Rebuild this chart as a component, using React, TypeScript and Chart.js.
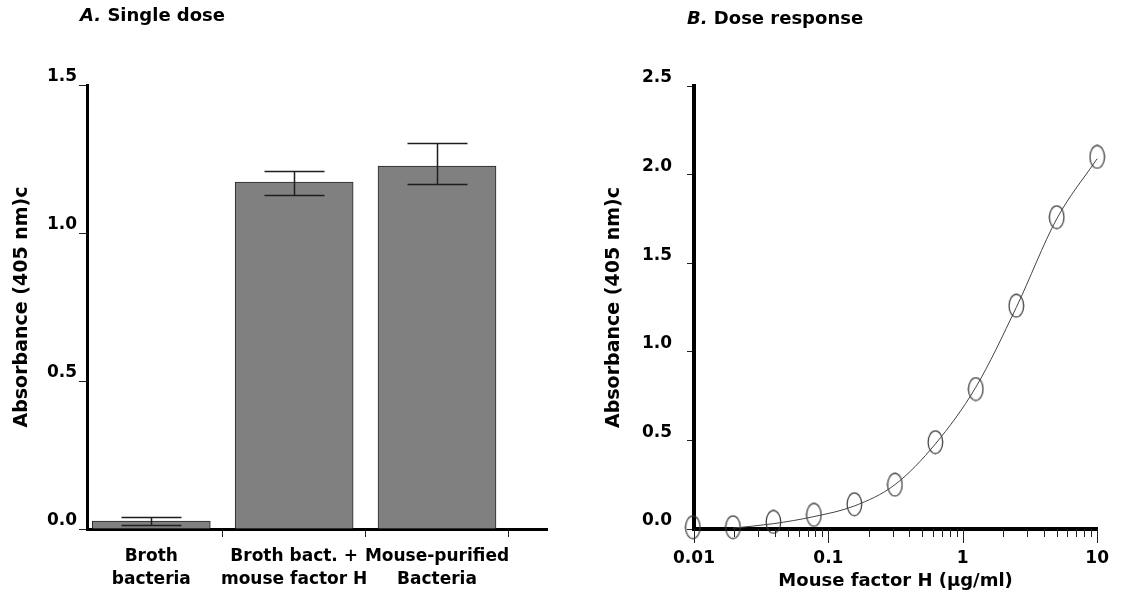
import React, { useEffect, useRef } from 'react';
import { Chart, registerables } from 'chart.js';
Chart.register(...registerables);

// ---------- Panel A data ----------
const categories: string[][] = [
  ['Broth', 'bacteria'],
  ['Broth bact. +', 'mouse factor H'],
  ['Mouse-purified', 'Bacteria'],
];
const barValues = [0.027, 1.172, 1.226];
const errHigh = [0.040, 1.209, 1.304];
const errLow = [0.014, 1.128, 1.166];
const leftYTicks = [0, 0.5, 1.0, 1.5];
const categoryPositions = [0, 1, 2];
const categoryBoundaries = [0.5, 1.5, 2.5];

// ---------- Panel B data ----------
const doses = [0.0098, 0.0195, 0.039, 0.078, 0.156, 0.3125, 0.625, 1.25, 2.5, 5, 10];
const absorbance = [0.01, 0.01, 0.04, 0.08, 0.14, 0.25, 0.49, 0.79, 1.26, 1.76, 2.10];
const fitDoses = [0.0195, 0.039, 0.078, 0.156, 0.3125, 0.625, 1.25, 2.5, 5, 10];
const fitValues = [0.005, 0.03, 0.07, 0.13, 0.25, 0.48, 0.80, 1.25, 1.75, 2.09];
const rightYTicks = [0, 0.5, 1.0, 1.5, 2.0, 2.5];
const majorTicks = [0.01, 0.1, 1, 10];
const majorTickLabels = ['0.01', '0.1', '1', '10'];
const minorMultipliers = [2, 3, 4, 5, 6, 7, 8, 9];

const FONT = '"DejaVu Sans", sans-serif';
const boldFont = (size: number, lineHeight = 1.2) => ({ family: FONT, size, weight: 'bold' as const, lineHeight });

const errorBarPlugin = {
  id: 'errorBars',
  afterDatasetsDraw(chart: any) {
    const { ctx, scales } = chart;
    const xs = scales.x;
    const ys = scales.y;
    ctx.save();
    ctx.strokeStyle = '#1e1e1e';
    ctx.lineWidth = 1.5;
    const half = 30;
    categoryPositions.forEach((c, i) => {
      const x = Math.round(xs.getPixelForValue(c)) + 0.5;
      const yh = Math.round(ys.getPixelForValue(errHigh[i])) + 0.5;
      const yl = Math.round(ys.getPixelForValue(errLow[i])) + 0.5;
      ctx.beginPath();
      ctx.moveTo(x, yh);
      ctx.lineTo(x, yl);
      ctx.moveTo(x - half, yh);
      ctx.lineTo(x + half, yh);
      ctx.moveTo(x - half, yl);
      ctx.lineTo(x + half, yl);
      ctx.stroke();
    });
    ctx.restore();
  },
};

const logTickPlugin = {
  id: 'logTickMarks',
  afterDraw(chart: any) {
    const { ctx } = chart;
    const s = chart.scales.x;
    ctx.save();
    ctx.strokeStyle = '#222';
    ctx.lineWidth = 1;
    s.ticks.forEach((t: any) => {
      const px = Math.round(s.getPixelForValue(t.value)) + 0.5;
      const len = t.major ? 14 : 8;
      ctx.beginPath();
      ctx.moveTo(px, s.top);
      ctx.lineTo(px, s.top + len);
      ctx.stroke();
    });
    ctx.restore();
  },
};

function makeEllipse(): HTMLCanvasElement {
  const c = document.createElement('canvas');
  c.width = 17;
  c.height = 25;
  const g = c.getContext('2d')!;
  g.strokeStyle = '#333';
  g.lineWidth = 1.2;
  g.beginPath();
  g.ellipse(8.5, 12.5, 7.3, 11.3, 0, 0, Math.PI * 2);
  g.stroke();
  return c;
}

export default function App() {
  const leftRef = useRef<HTMLCanvasElement>(null);
  const rightRef = useRef<HTMLCanvasElement>(null);

  useEffect(() => {
    const left = new Chart(leftRef.current!, {
      type: 'bar',
      data: {
        datasets: [
          {
            data: barValues.map((v, i) => ({ x: categoryPositions[i], y: v })),
            backgroundColor: '#808080',
            borderColor: '#262626',
            borderWidth: 1,
            barThickness: 118,
          } as any,
        ],
      },
      options: {
        animation: false,
        responsive: false,
        layout: { padding: { top: 85, right: 13, left: 0, bottom: 0 } },
        plugins: { legend: { display: false }, tooltip: { enabled: false } },
        scales: {
          x: {
            type: 'linear',
            offset: false,
            min: -0.45,
            max: 2.77,
            afterBuildTicks: (s: any) => {
              s.ticks = [...categoryPositions, ...categoryBoundaries]
                .sort((a, b) => a - b)
                .map((v) => ({ value: v }));
            },
            afterFit: (s: any) => {
              s.height = 65;
            },
            grid: {
              offset: false,
              drawOnChartArea: false,
              drawTicks: true,
              tickLength: 8,
              lineWidth: 1,
              tickColor: (c: any) =>
                c.tick && categoryBoundaries.includes(c.tick.value) ? '#222' : 'rgba(0,0,0,0)',
            },
            border: { display: true, color: '#000', width: 3 },
            ticks: {
              padding: 9,
              autoSkip: false,
              maxRotation: 0,
              color: '#000',
              font: boldFont(17, 1.3),
              callback: (v: any) => {
                const k = categoryPositions.indexOf(Number(v));
                return k >= 0 ? categories[k] : '';
              },
            },
          },
          y: {
            type: 'linear',
            min: 0,
            max: 1.5,
            afterBuildTicks: (s: any) => {
              s.ticks = leftYTicks.map((v) => ({ value: v }));
            },
            afterFit: (s: any) => {
              s.width = 87;
            },
            grid: { drawOnChartArea: false, tickLength: 8, color: '#222', lineWidth: 1 },
            border: { display: true, color: '#000', width: 3 },
            ticks: {
              padding: 2,
              labelOffset: -8,
              color: '#000',
              font: boldFont(17),
              callback: (v: any) => Number(v).toFixed(1),
            },
            title: {
              display: true,
              text: 'Absorbance (405 nm)c',
              color: '#000',
              font: boldFont(19),
              padding: { top: 11, bottom: 0 },
            },
          },
        },
      },
      plugins: [errorBarPlugin],
    } as any);

    const ellipse = makeEllipse();
    const logTicks: { value: number; major: boolean }[] = [];
    majorTicks.forEach((m, i) => {
      logTicks.push({ value: m, major: true });
      if (i < majorTicks.length - 1) {
        minorMultipliers.forEach((k) => logTicks.push({ value: m * k, major: false }));
      }
    });

    const right = new Chart(rightRef.current!, {
      type: 'scatter',
      data: {
        datasets: [
          {
            data: fitDoses.map((x, i) => ({ x, y: fitValues[i] })),
            showLine: true,
            borderColor: '#444',
            borderWidth: 1,
            pointRadius: 0,
            cubicInterpolationMode: 'monotone',
            clip: false,
          } as any,
          {
            data: doses.map((x, i) => ({ x, y: absorbance[i] })),
            showLine: false,
            pointStyle: ellipse,
            pointRadius: 10,
            clip: false,
          } as any,
        ],
      },
      options: {
        animation: false,
        responsive: false,
        layout: { padding: { top: 86, right: 12, left: 0, bottom: 0 } },
        plugins: { legend: { display: false }, tooltip: { enabled: false } },
        scales: {
          x: {
            type: 'logarithmic',
            min: 0.01,
            max: 10,
            afterBuildTicks: (s: any) => {
              s.ticks = logTicks.map((t) => ({ ...t }));
            },
            afterFit: (s: any) => {
              s.height = 65;
            },
            grid: { drawOnChartArea: false, drawTicks: false },
            border: { display: true, color: '#000', width: 4 },
            ticks: {
              padding: 19,
              autoSkip: false,
              maxRotation: 0,
              color: '#000',
              font: boldFont(17),
              callback: (v: any) => {
                const k = majorTicks.findIndex((m) => Math.abs(m - Number(v)) < 1e-9);
                return k >= 0 ? majorTickLabels[k] : '';
              },
            },
            title: {
              display: true,
              text: 'Mouse factor H (\u03bcg/ml)',
              color: '#000',
              font: boldFont(18),
              padding: { top: 0, bottom: 2 },
            },
          },
          y: {
            type: 'linear',
            min: 0,
            max: 2.5,
            afterBuildTicks: (s: any) => {
              s.ticks = rightYTicks.map((v) => ({ value: v }));
            },
            afterFit: (s: any) => {
              s.width = 134;
            },
            grid: { drawOnChartArea: false, tickLength: 7, color: '#222', lineWidth: 1 },
            border: { display: true, color: '#000', width: 4 },
            ticks: {
              padding: 15,
              labelOffset: -8,
              color: '#000',
              font: boldFont(17),
              callback: (v: any) => Number(v).toFixed(1),
            },
            title: {
              display: true,
              text: 'Absorbance (405 nm)c',
              color: '#000',
              font: boldFont(19),
              padding: { top: 43, bottom: 0 },
            },
          },
        },
      },
      plugins: [logTickPlugin],
    } as any);

    return () => {
      left.destroy();
      right.destroy();
    };
  }, []);

  const titleStyle: React.CSSProperties = {
    position: 'absolute',
    fontFamily: FONT,
    fontWeight: 'bold',
    fontSize: 18,
    lineHeight: '20px',
    whiteSpace: 'nowrap',
    color: '#000',
  };

  return (
    <div style={{ position: 'absolute', left: 0, top: 0, width: 1128, height: 594, background: '#fff', overflow: 'hidden' }}>
      <canvas ref={leftRef} width={560} height={594} style={{ position: 'absolute', left: 0, top: 0 }} />
      <canvas ref={rightRef} width={568} height={594} style={{ position: 'absolute', left: 560, top: 0 }} />
      <div style={{ ...titleStyle, left: 80, top: 5 }}>
        <i>A.</i> Single dose
      </div>
      <div style={{ ...titleStyle, left: 687, top: 8 }}>
        <i>B.</i> Dose response
      </div>
    </div>
  );
}
